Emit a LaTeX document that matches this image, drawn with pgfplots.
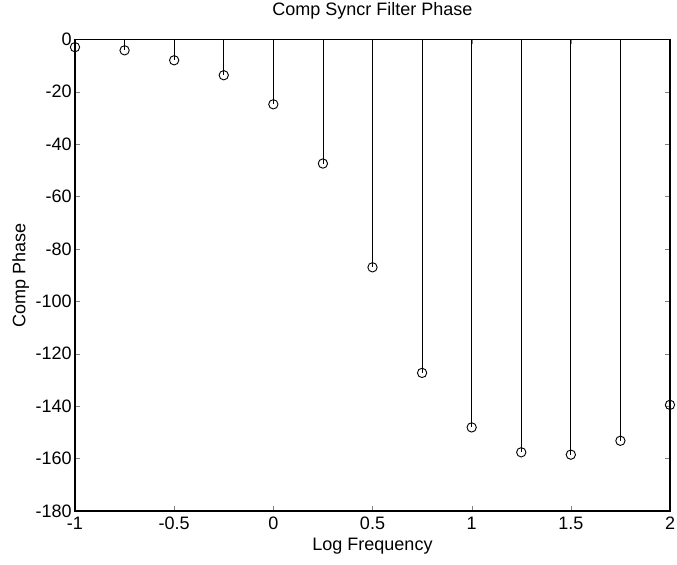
\documentclass[border=0pt]{standalone}
\usepackage{pgfplots}
\pgfplotsset{compat=1.18}
\usepackage{fontspec}
\setmainfont{Liberation Sans}
\begin{document}
\begin{tikzpicture}
  % frame the page like the reference (axis box at the origin)
  \useasboundingbox (-45pt,-32.4pt) rectangle (361.2pt,306.6pt);
  \begin{axis}[
      width=357pt, height=283pt, scale only axis,
      xmin=-1, xmax=2, ymin=-180, ymax=0,
      xtick={-1,-0.5,0,0.5,1,1.5,2},
      ytick={-180,-160,-140,-120,-100,-80,-60,-40,-20,0},
      tick align=inside, tick pos=both,
      major tick length=3pt,
      /pgf/number format/assume math mode=true,
      tick label style={font=\fontsize{10.8}{12}\selectfont},
      yticklabel style={xshift=1.5pt},
      label style={font=\fontsize{10.8}{12}\selectfont},
      title style={font=\fontsize{10.8}{12}\selectfont, yshift=2.5pt},
      title={Comp Syncr Filter Phase},
      xlabel={Log Frequency},
      ylabel={Comp Phase},
      xlabel style={yshift=2pt},
      ylabel style={yshift=-3pt},
      axis line style={line width=0.8pt},
      clip=false,
    ]
    \addplot[ycomb, black, line width=0.5pt, mark=o,
      mark options={solid, line width=0.55pt, scale=1.4}] coordinates {
      (-1,-3) (-0.75,-4.2) (-0.5,-8) (-0.25,-13.7) (0,-24.8)
      (0.25,-47.4) (0.5,-87) (0.75,-127.3) (1,-148.1)
      (1.25,-157.6) (1.5,-158.5) (1.75,-153.2) (2,-139.5)
    };
  \end{axis}
\end{tikzpicture}
\end{document}
